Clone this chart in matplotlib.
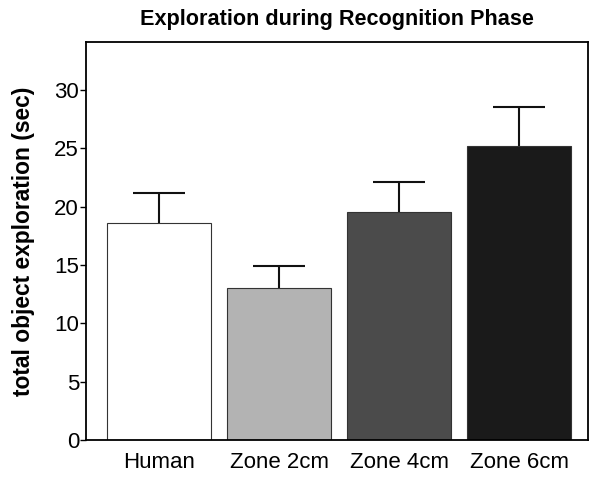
import matplotlib
matplotlib.use("Agg")
import matplotlib.pyplot as plt
import numpy as np

# values
groups = ["Human", "Zone 2cm", "Zone 4cm", "Zone 6cm"]
means = [18.6, 13.0, 19.5, 25.2]
sems = [2.6, 1.9, 2.6, 3.3]
barColors = ["#ffffff", "#b3b3b3", "#4b4b4b", "#1a1a1a"]
yTicks = [0, 5, 10, 15, 20, 25, 30]

plt.rcParams["font.family"] = ["Liberation Sans", "DejaVu Sans"]

fig = plt.figure(figsize=(6.03, 4.78), dpi=100)
ax = fig.add_axes([0.1426, 0.0795, 0.8325, 0.8326])

x = np.arange(len(groups))
ax.bar(x, means, width=0.867, color=barColors, edgecolor="#333333", linewidth=0.8, zorder=2)
# only the upper half of the error bar, like the original figure
_, caps, _ = ax.errorbar(x, means, yerr=[np.zeros(len(sems)), sems], fmt="none",
                         ecolor="#111111", elinewidth=1.5, capsize=19, capthick=1.5, zorder=1)
caps[0].set_visible(False)

ax.set_xlim(-0.61, 3.575)
ax.set_ylim(0, 34.1)
ax.set_yticks(yTicks)
ax.set_xticks(x)
ax.set_xticklabels(groups, fontsize=16)
ax.tick_params(axis="y", labelsize=16, length=4, width=1, pad=1)
ax.tick_params(axis="x", length=0, pad=9)
for spine in ax.spines.values():
    spine.set_linewidth(1.3)

ax.set_ylabel("total object exploration (sec)", fontsize=16.4, fontweight="bold", labelpad=14)
ax.set_title("Exploration during Recognition Phase", fontsize=15.6, fontweight="bold", pad=12)

fig.savefig("out.png", dpi=100)
